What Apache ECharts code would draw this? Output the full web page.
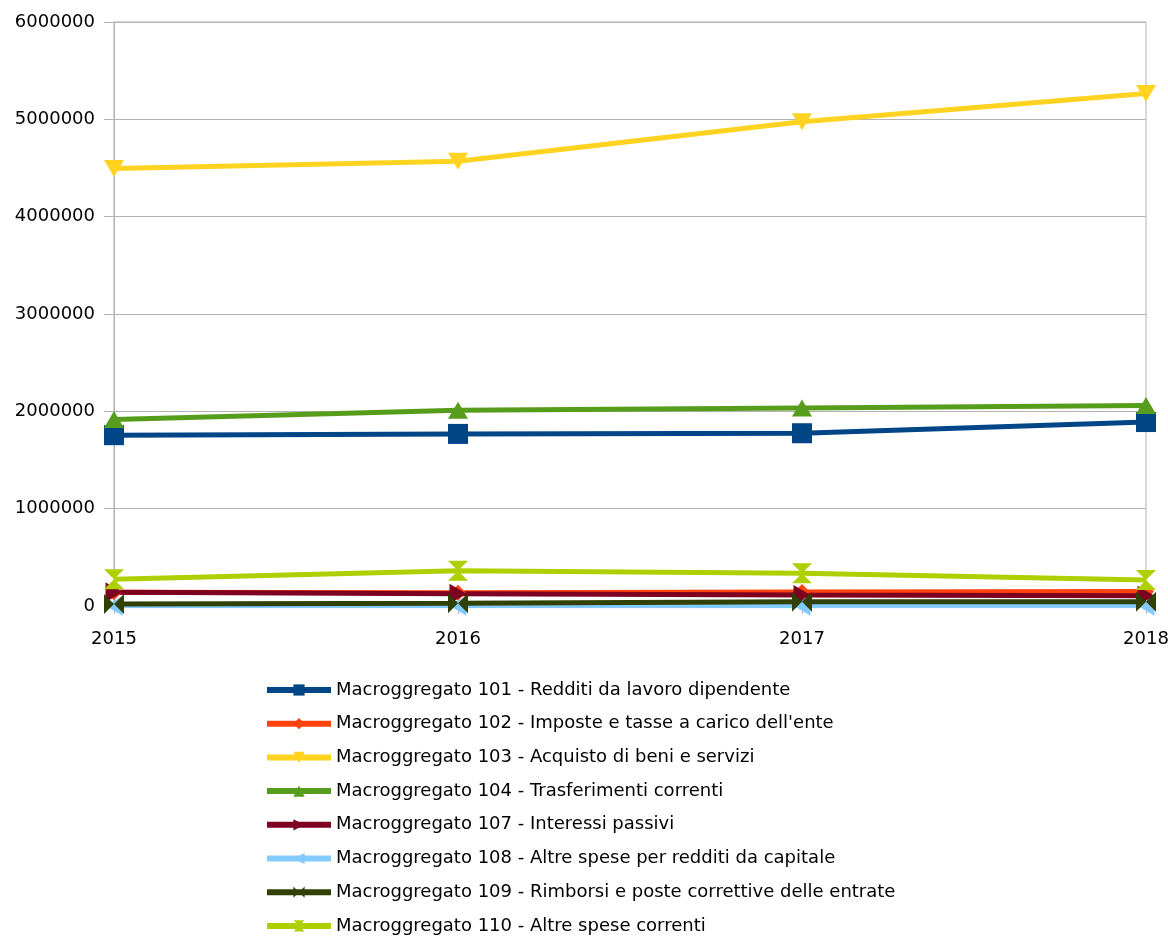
<!DOCTYPE html>
<html><head><meta charset="utf-8">
<script src="https://cdn.jsdelivr.net/npm/echarts@6/dist/echarts.min.js"></script>
<style>html,body{margin:0;padding:0;background:#fff}#c{width:1168px;height:937px}</style>
</head><body><div id="c"></div>
<script>
const years = ['2015', '2016', '2017', '2018'];
const yTicks = [0, 1000000, 2000000, 3000000, 4000000, 5000000, 6000000];
const names = [
  'Macroggregato 101 - Redditi da lavoro dipendente',
  'Macroggregato 102 - Imposte e tasse a carico dell\'ente',
  'Macroggregato 103 - Acquisto di beni e servizi',
  'Macroggregato 104 - Trasferimenti correnti',
  'Macroggregato 107 - Interessi passivi',
  'Macroggregato 108 - Altre spese per redditi da capitale',
  'Macroggregato 109 - Rimborsi e poste correttive delle entrate',
  'Macroggregato 110 - Altre spese correnti'
];
const m101 = [1755000, 1768000, 1775000, 1890000];
const m102 = [140000, 135000, 145000, 150000];
const m103 = [4495000, 4570000, 4975000, 5265000];
const m104 = [1915000, 2012000, 2035000, 2060000];
const m107 = [141000, 126000, 113000, 106000];
const m108 = [3000, 3000, 3000, 3000];
const m109 = [20000, 27000, 43000, 44000];
const m110 = [274000, 363000, 336000, 267000];

const colors = ['#004586', '#ff420e', '#ffd320', '#579d1c', '#7e0021', '#83caff', '#314004', '#aecf00'];
const symbols = [
  'rect',
  'diamond',
  'path://M0,0 L20,0 L10,17 Z',
  'path://M10,0 L20,17 L0,17 Z',
  'path://M0,0 L17,10 L0,20 Z',
  'path://M17,0 L0,10 L17,20 Z',
  'path://M0,0 L10,10 L0,20 Z M20,0 L10,10 L20,20 Z',
  'path://M0,0 L20,0 L10,10 Z M0,20 L20,20 L10,10 Z'
];
const sizes = [20, 16, [20, 17], [20, 17], [17, 20], [17, 20], 20, 20];
const data = [m101, m102, m103, m104, m107, m108, m109, m110];

const chart = echarts.init(document.getElementById('c'), null, {renderer: 'canvas'});
chart.setOption({
  animation: false,
  grid: {left: 114, right: 22, top: 22, bottom: 331, show: true, borderColor: '#b3b3b3', borderWidth: 1,
    outerBoundsMode: 'none', containLabel: false},
  xAxis: {
    type: 'category', data: years, boundaryGap: false,
    axisLine: {lineStyle: {color: '#b3b3b3'}},
    axisTick: {show: true, length: 8, lineStyle: {color: '#b3b3b3'}},
    axisLabel: {color: '#000', fontSize: 18, fontFamily: 'DejaVu Sans', margin: 24}
  },
  yAxis: {
    type: 'value', min: yTicks[0], max: yTicks[yTicks.length - 1], interval: 1000000,
    axisLine: {show: true, lineStyle: {color: '#b3b3b3'}},
    axisTick: {show: true, length: 10, lineStyle: {color: '#b3b3b3'}},
    splitLine: {lineStyle: {color: '#b3b3b3'}},
    axisLabel: {color: '#000', fontSize: 18, fontFamily: 'DejaVu Sans', margin: 19,
      formatter: v => String(v)}
  },
  legend: {
    orient: 'vertical', left: 264, top: 680, height: 300, itemGap: 13.7, padding: 0,
    itemWidth: 64, itemHeight: 14,
    lineStyle: {width: 6},
    textStyle: {fontSize: 18, lineHeight: 20, fontFamily: 'DejaVu Sans', color: '#000', padding: [0, 0, 0, 0]},
    data: names
  },
  series: names.map((n, i) => ({
    name: n, type: 'line', data: data[i],
    color: colors[i],
    lineStyle: {width: 5, color: colors[i]},
    itemStyle: {color: colors[i]},
    symbol: symbols[i], symbolSize: sizes[i], showSymbol: true,
    emphasis: {disabled: true}
  }))
});
</script></body></html>
